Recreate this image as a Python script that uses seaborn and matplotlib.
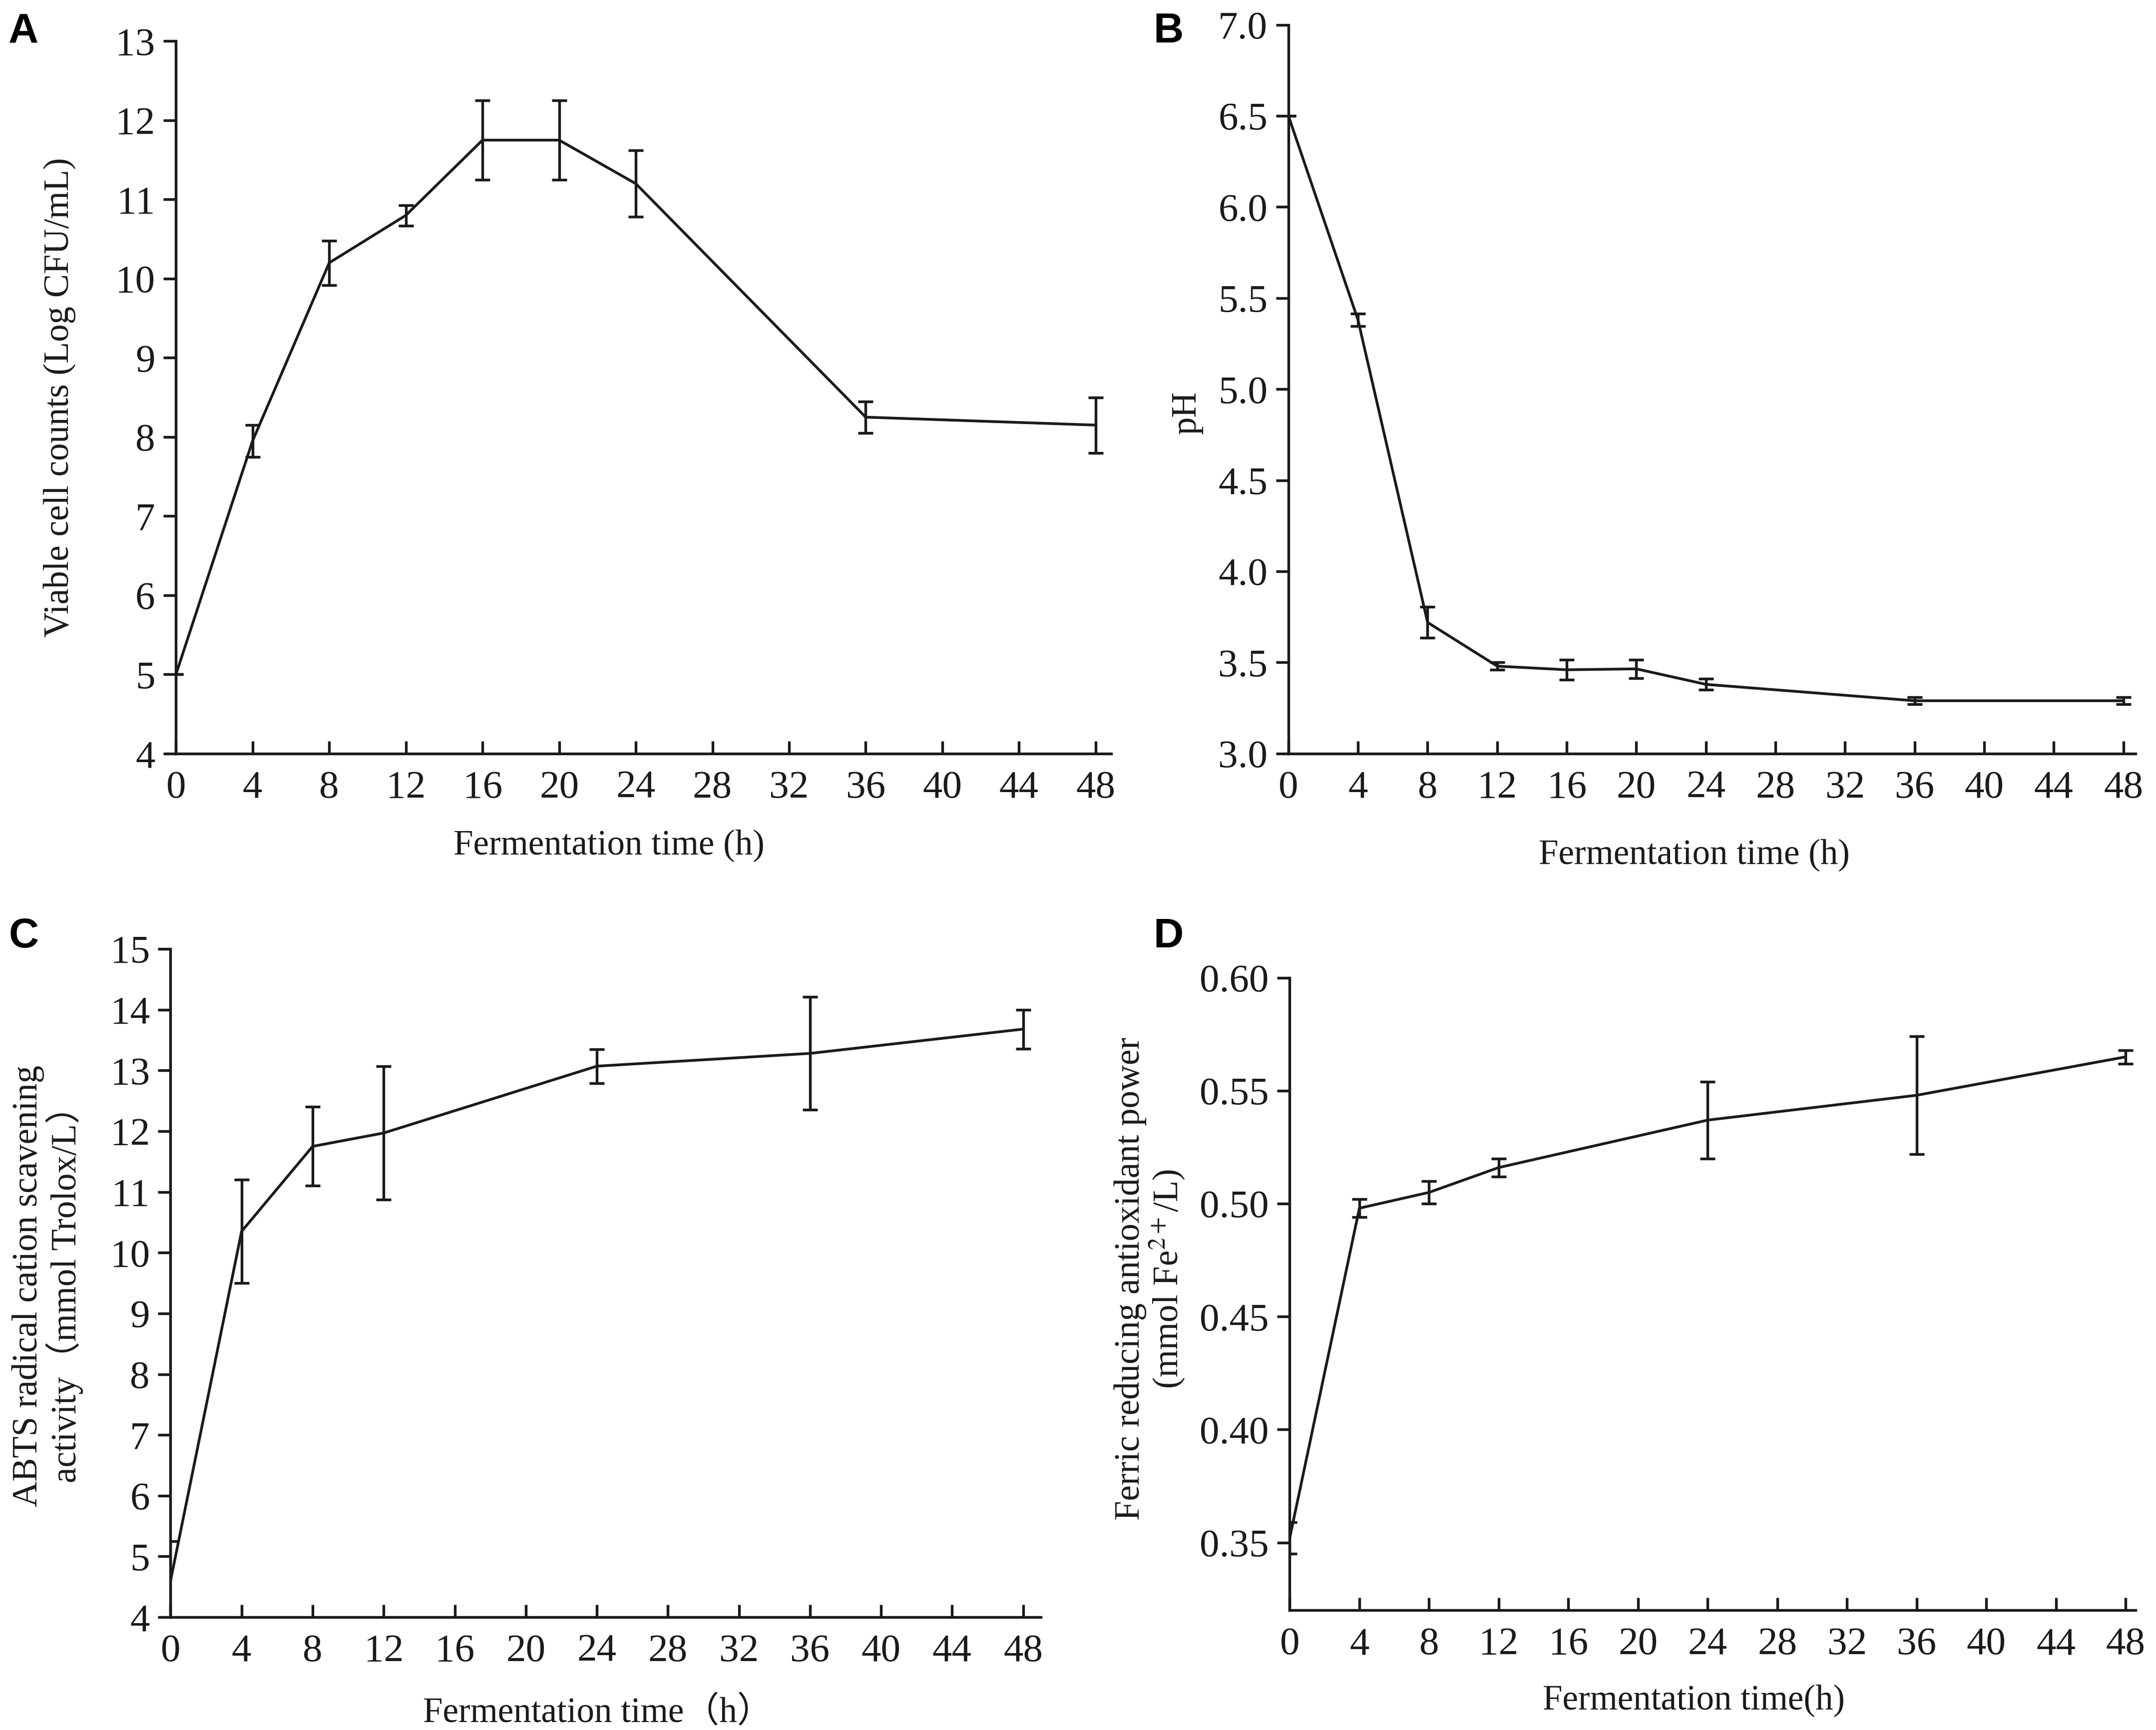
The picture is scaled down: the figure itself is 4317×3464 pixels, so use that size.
import numpy as np
import pandas as pd
import matplotlib
matplotlib.use('Agg')
import matplotlib.pyplot as plt
import seaborn as sns

# dados
tempo = [0, 4, 8, 12, 16, 20, 24, 36, 48]
viaveis = [5.0, 7.95, 10.2, 10.8, 11.75, 11.75, 11.2, 8.25, 8.15]
viaveis_dp = [0.0, 0.2, 0.28, 0.13, 0.5, 0.5, 0.42, 0.2, 0.35]

ph = [6.5, 5.38, 3.72, 3.48, 3.46, 3.465, 3.38, 3.29, 3.29]
ph_dp = [0.0, 0.035, 0.085, 0.02, 0.055, 0.05, 0.03, 0.02, 0.02]

tempo2 = [0, 4, 8, 12, 24, 36, 48]
abts = [4.6, 10.35, 11.75, 11.97, 13.07, 13.28, 13.68]
abts_dp = [0.65, 0.85, 0.65, 1.1, 0.28, 0.93, 0.32]

frap = [0.352, 0.498, 0.505, 0.516, 0.537, 0.548, 0.565]
frap_dp = [0.007, 0.004, 0.005, 0.004, 0.017, 0.026, 0.003]

xticks = list(range(0, 49, 4))

sns.set_theme(style='ticks')
plt.rcParams['font.family'] = ['Liberation Serif', 'Noto Sans CJK SC']
plt.rcParams['mathtext.fontset'] = 'stix'

fig = plt.figure(figsize=(4317/300, 3464/300), dpi=300)

# posições dos eixos [esq, baixo, largura, altura]
axA = fig.add_axes([0.0816, 0.5644, 0.4337, 0.4118])
axB = fig.add_axes([0.5976, 0.5644, 0.3929, 0.4213])
axC = fig.add_axes([0.0791, 0.0652, 0.4037, 0.3863])
axD = fig.add_axes([0.5982, 0.0692, 0.3922, 0.3656])

paineis = [
    (axA, tempo, viaveis, viaveis_dp, (0, 48.8), (4, 13), np.arange(4, 14, 1), '%d'),
    (axB, tempo, ph, ph_dp, (0, 48.7), (3, 7), np.arange(3, 7.01, 0.5), '%.1f'),
    (axC, tempo2, abts, abts_dp, (0, 49.0), (4, 15), np.arange(4, 16, 1), '%d'),
    (axD, tempo2, frap, frap_dp, (0, 48.55), (0.32, 0.60), np.arange(0.35, 0.601, 0.05), '%.2f'),
]

cor = '#1a1a1a'
for ax, x, y, dp, xl, yl, yt, fmt in paineis:
    df = pd.DataFrame({'t': x, 'v': y})
    sns.lineplot(data=df, x='t', y='v', ax=ax, color=cor, linewidth=1.3)
    ax.errorbar(x, y, yerr=dp, fmt='none', ecolor=cor, elinewidth=1.3,
                capsize=3.5, capthick=1.3)
    ax.set_xlim(*xl)
    ax.set_ylim(*yl)
    ax.set_xticks(xticks)
    ax.set_yticks(yt)
    ax.yaxis.set_major_formatter(matplotlib.ticker.FormatStrFormatter(fmt))
    sns.despine(ax=ax)
    for s in ['left', 'bottom']:
        ax.spines[s].set_linewidth(1.3)
        ax.spines[s].set_color(cor)
    ax.tick_params(axis='x', direction='in', length=6, width=1.3, labelsize=19,
                   pad=8, colors=cor)
    ax.tick_params(axis='y', direction='out', length=6, width=1.3, labelsize=19,
                   pad=4, colors=cor)

axA.set_xlabel('Fermentation time (h)', fontsize=17, color=cor)
axA.set_ylabel('Viable cell counts (Log CFU/mL)', fontsize=17, color=cor)
axA.xaxis.set_label_coords(0.463, -0.106)
axA.yaxis.set_label_coords(-0.107, 0.5)

axB.set_xlabel('Fermentation time (h)', fontsize=17, color=cor)
axB.set_ylabel('pH', fontsize=17, color=cor)
axB.xaxis.set_label_coords(0.479, -0.117)
axB.yaxis.set_label_coords(-0.101, 0.468)

axC.set_xlabel('Fermentation time（h）', fontsize=17, color=cor)
axC.set_ylabel('ABTS radical cation scavening\nactivity（mmol Trolox/L）', fontsize=17,
               color=cor, linespacing=1.05)
axC.xaxis.set_label_coords(0.491, -0.118)
axC.yaxis.set_label_coords(-0.100, 0.496)

axD.set_xlabel('Fermentation time(h)', fontsize=17, color=cor)
axD.set_ylabel('Ferric reducing antioxidant power\n(mmol Fe$^{2+}$/L)', fontsize=17,
               color=cor, linespacing=1.05)
axD.xaxis.set_label_coords(0.478, -0.117)
axD.yaxis.set_label_coords(-0.122, 0.524)

# letras dos painéis
for letra, px, py in [('A', 0.004, 0.993), ('B', 0.535, 0.993),
                      ('C', 0.004, 0.470), ('D', 0.535, 0.470)]:
    fig.text(px, py, letra, fontsize=20, fontweight='bold', family='Liberation Sans',
             va='top', ha='left', color='black')

fig.savefig('out.png', dpi=300)
